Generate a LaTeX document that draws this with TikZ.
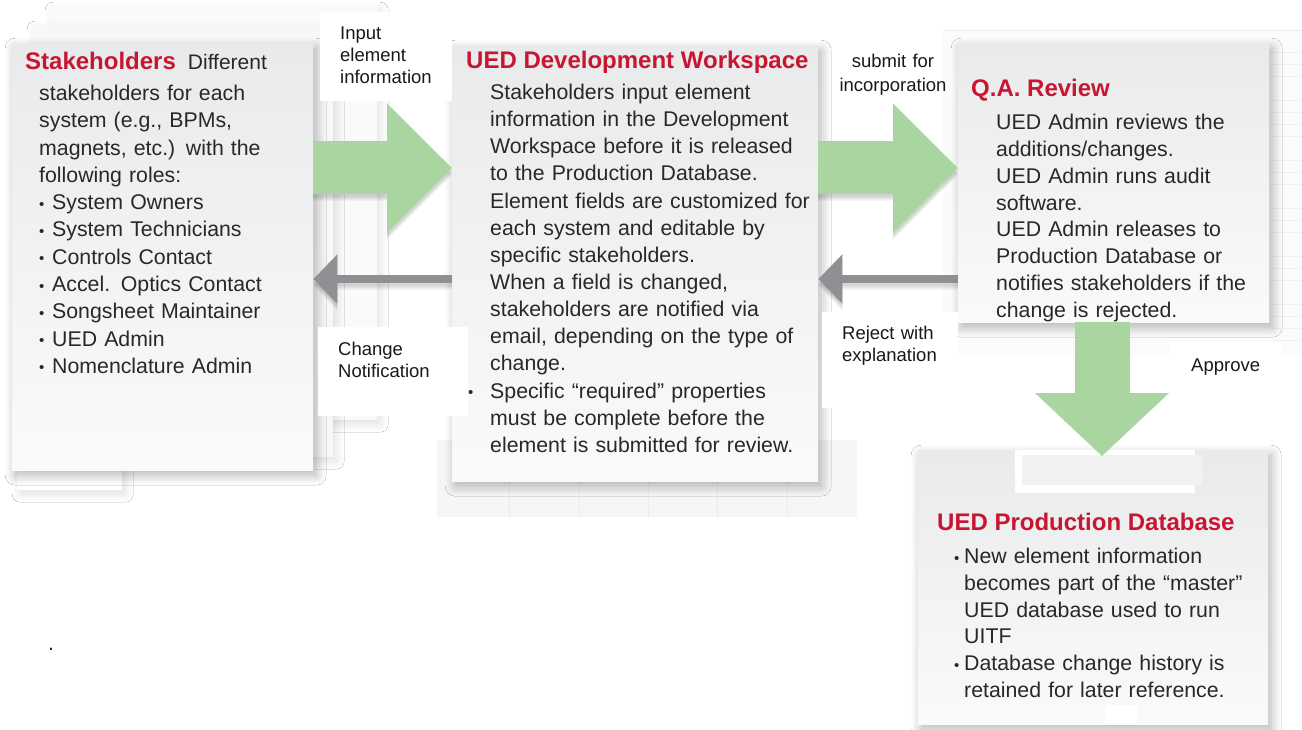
\documentclass[tikz,border=0pt]{standalone}
\usepackage{fontspec}
\setmainfont{Liberation Sans}
\usetikzlibrary{arrows.meta,shadows.blur}

\definecolor{hdred}{RGB}{200,22,50}
\definecolor{txt}{RGB}{40,40,40}
\definecolor{lbl}{RGB}{25,25,25}
\definecolor{flowgreen}{RGB}{168,213,160}
\definecolor{backgray}{RGB}{142,144,148}
\definecolor{paneltop}{RGB}{233,234,235}
\definecolor{panelbot}{RGB}{250,250,250}

% small bullet set in a box of given width
\newcommand\bulbox[1]{\makebox[#1][l]{\raisebox{0.5pt}{\fontsize{15}{15}\selectfont\textbullet}}}
% bullet hanging into the left margin
\newcommand\hangbul[1]{\leavevmode\llap{\bulbox{#1}}}

\begin{document}
\begin{tikzpicture}[x=1pt,y=-1pt,
  shade/.style={blur shadow={shadow xshift=3pt,shadow yshift=-5pt,shadow blur radius=10pt,shadow opacity=30,shadow blur steps=12}},
  softshade/.style={blur shadow={shadow xshift=3pt,shadow yshift=-4pt,shadow blur radius=8pt,shadow opacity=12,shadow blur steps=8}},
  panel/.style={rectangle,inner sep=0,anchor=north west,draw=none,top color=paneltop,bottom color=panelbot,shade},
  backpanel/.style={rectangle,inner sep=0,anchor=north west,draw=none,fill=black!3,softshade},
  lab/.style={rectangle,inner sep=0,anchor=north west,fill=white},
  head/.style={anchor=base west,inner sep=0,font=\fontsize{24}{28}\selectfont\bfseries,text=hdred},
  body/.style={anchor=base west,inner sep=0,text width=420pt,align=left,font=\fontsize{21.3}{#1}\selectfont,text=txt},
  note/.style={anchor=base west,inner sep=0,text width=200pt,align=left,font=\fontsize{18.5}{22}\selectfont,text=lbl},
  flow/.style={draw=flowgreen,line width=53pt,-{Triangle[length=65pt,width=125pt]}},
  flowshadow/.style={draw=black,opacity=0.035,line width=53pt,-{Triangle[length=65pt,width=125pt]}},
  back/.style={draw=backgray,line width=8pt,-{Triangle[length=24pt,width=48pt]}},
  backshadow/.style={draw=black,opacity=0.03,line width=8pt,-{Triangle[length=24pt,width=48pt]}},
]
\useasboundingbox (0,0) rectangle (1302,730);
\fill[white] (0,0) rectangle (1302,730);

% ---------- faint background sheets ----------
\node[backpanel,minimum width=327,minimum height=414,fill=black!2] (stackC) at (50,6) {};
\node[backpanel,minimum width=301,minimum height=432] (stackB) at (32,25) {};
\node[lab,minimum width=105,minimum height=35,softshade] (stackA) at (17,455) {};

% striped sheet under the workspace panel
\node[rectangle,inner sep=0,anchor=north west,fill=black!3.5,minimum width=420,minimum height=77] (devbase) at (437,440) {};
\foreach \xx in {509,579,648,717,787}
  \draw[black!8,line width=1pt] (\xx,440) -- (\xx,517);

% faint sheet behind the review panel
\node[rectangle,inner sep=0,anchor=north west,fill=black!1.5,minimum width=359,minimum height=325] (qabase) at (943,30) {};
\draw[black!8] (qabase.north west) -- (qabase.north east);
\foreach \yy in {52,64,76,100,112,124,136,160,172,184,208,220,232,256,268,280,304,316,328,340}
  \draw[black!6] (1270,\yy) -- (1302,\yy);

% ---------- main panels ----------
\node[panel,minimum width=301,minimum height=427] (sh) at (12,43) {};
\node[panel,minimum width=366,minimum height=436] (dev) at (452,45) {};
\node[panel,minimum width=311,minimum height=279] (qa) at (958,43) {};
\node[panel,minimum width=350,minimum height=274] (prod) at (918,450) {};

% small sheet edges on the database panel
\node[lab,minimum width=180,minimum height=43] (prodA) at (1015,450) {};
\node[rectangle,inner sep=0,anchor=north west,fill=black!5,minimum width=180,minimum height=30] (prodB) at (1022,455) {};
\node[lab,minimum width=32,minimum height=20] (prodC) at (1105,705) {};

% ---------- label backgrounds ----------
\node[lab,minimum width=132,minimum height=89] (inLab) at (320,12) {};
\node[lab,minimum width=150,minimum height=89] (chLab) at (318,327) {};
\node[lab,minimum width=136,minimum height=96] (rjLab) at (822,312) {};
\node[lab,minimum width=113,minimum height=56] (apLab) at (1170,342) {};

% ---------- connectors ----------
\coordinate (apTip) at (1102,456);
% soft shadows under the connectors
\foreach \k in {1,...,5}{
  \draw[flowshadow,shift={(1+\k,2+\k)}] (sh.east |- 0,168) -- (dev.west |- 0,168);
  \draw[flowshadow,shift={(1+\k,2+\k)}] (dev.east |- 0,168) -- (qa.west |- 0,168);
  \draw[flowshadow,line width=55pt,-{Triangle[length=63pt,width=130pt]},shift={(2+\k,1+\k)}] (qa.south -| apTip) -- (apTip);
  \draw[backshadow,shift={(1+\k,2+\k)}] (dev.west |- 0,279) -- (sh.east |- 0,279);
  \draw[backshadow,shift={(1+\k,2+\k)}] (qa.west |- 0,279) -- (dev.east |- 0,279);
}
% forward flow
\draw[flow] (sh.east |- 0,168) -- (dev.west |- 0,168);
\draw[flow] (dev.east |- 0,168) -- (qa.west |- 0,168);
\draw[flow,line width=55pt,-{Triangle[length=63pt,width=130pt]}] (qa.south -| apTip) -- (apTip);
% feedback
\draw[back] (dev.west |- 0,279) -- (sh.east |- 0,279);
\draw[back] (qa.west |- 0,279) -- (dev.east |- 0,279);

% ---------- connector labels ----------
\node[note] (inTxt) at (340,39.5) {Input\\element\\information};
\node[note] (chTxt) at (338,355.5) {Change\\Notification};
\node[note,anchor=base,text width=150pt,align=center,font=\fontsize{18.5}{24}\selectfont] (sbTxt) at (893,67.5) {submit for\\incorporation};
\node[note] (rjTxt) at (842,339.5) {Reject with\\explanation};
\node[note] (apTxt) at (1191,371.5) {Approve};

% ---------- Stakeholders ----------
\node[anchor=base west,inner sep=0] (shHead) at (25,70)
  {{\fontsize{24}{28}\selectfont\bfseries\color{hdred}Stakeholders}\hspace{12pt}{\fontsize{21}{26}\selectfont\color{txt}Different}};
\node[body=27.3] (shBody) at (39,100.5) {%
stakeholders for each\\
system (e.g., BPMs,\\
magnets, etc.) with the\\
following roles:\\
\bulbox{13pt}System Owners\\
\bulbox{13pt}System Technicians\\
\bulbox{13pt}Controls Contact\\
\bulbox{13pt}Accel. Optics Contact\\
\bulbox{13pt}Songsheet Maintainer\\
\bulbox{13pt}UED Admin\\
\bulbox{13pt}Nomenclature Admin};

% ---------- Development workspace ----------
\node[head] (devHead) at (466,68.5) {UED Development Workspace};
\node[body=27.15] (devBody) at (490,99.5) {%
Stakeholders input element\\
information in the Development\\
Workspace before it is released\\
to the Production Database.\\
Element fields are customized for\\
each system and editable by\\
specific stakeholders.\\
When a field is changed,\\
stakeholders are notified via\\
email, depending on the type of\\
change.\\
\hangbul{22pt}Specific “required” properties\\
must be complete before the\\
element is submitted for review.};

% ---------- Q.A. review ----------
\node[head] (qaHead) at (971,96.5) {Q.A. Review};
\node[body=26.86] (qaBody) at (996,129.5) {%
UED Admin reviews the\\
additions/changes.\\
UED Admin runs audit\\
software.\\
UED Admin releases to\\
Production Database or\\
notifies stakeholders if the\\
change is rejected.};

% ---------- Production database ----------
\node[head] (prodHead) at (937,530.5) {UED Production Database};
\node[body=26.8] (prodBody) at (964,563.5) {%
\hangbul{10pt}New element information\\
becomes part of the “master”\\
UED database used to run\\
UITF\\
\hangbul{10pt}Database change history is\\
retained for later reference.};

\node[body=26,text width=20pt] (dot) at (48,650) {.};
\end{tikzpicture}
\end{document}
